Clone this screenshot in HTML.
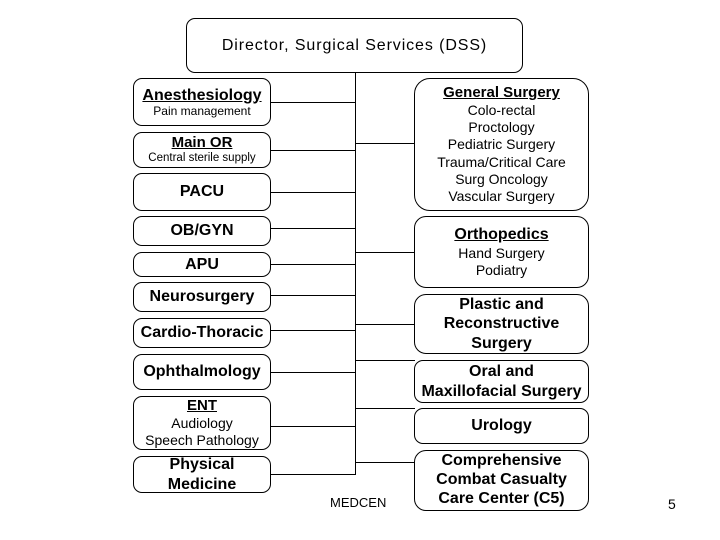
<!DOCTYPE html>
<html><head><meta charset="utf-8"><style>
body{margin:0;width:720px;height:540px;background:#fff;position:relative;font-family:"Liberation Sans",sans-serif;overflow:hidden}
.b{position:absolute;border:1px solid #000;border-radius:9px;box-sizing:border-box;display:flex;flex-direction:column;justify-content:center;align-items:center;text-align:center;color:#000;line-height:1.2}
.t{font-weight:bold;font-size:16px}
.u{text-decoration:underline}
.s{font-size:12px;line-height:1.15}
.m{font-size:14px;line-height:1.22}
.h{position:absolute;height:1px;background:#000}
.v{position:absolute;width:1px;background:#000}
</style></head><body>
<div class="b" style="left:186px;top:18px;width:337px;height:55px;font-size:16px;letter-spacing:0.9px">Director, Surgical Services (DSS)</div>
<div class="v" style="left:355px;top:72px;height:403px"></div>

<div class="b" style="left:133px;top:78px;width:138px;height:48px"><span class="t u">Anesthesiology</span><span class="s">Pain management</span></div>
<div class="b" style="left:133px;top:132px;width:138px;height:36px"><span class="t u" style="font-size:15px">Main OR</span><span class="s" style="font-size:11.5px">Central sterile supply</span></div>
<div class="b" style="left:133px;top:173px;width:138px;height:38px"><span class="t">PACU</span></div>
<div class="b" style="left:133px;top:216px;width:138px;height:30px"><span class="t">OB/GYN</span></div>
<div class="b" style="left:133px;top:252px;width:138px;height:25px"><span class="t">APU</span></div>
<div class="b" style="left:133px;top:282px;width:138px;height:30px"><span class="t">Neurosurgery</span></div>
<div class="b" style="left:133px;top:318px;width:138px;height:30px"><span class="t">Cardio-Thoracic</span></div>
<div class="b" style="left:133px;top:354px;width:138px;height:36px"><span class="t">Ophthalmology</span></div>
<div class="b" style="left:133px;top:396px;width:138px;height:54px"><span class="t u" style="font-size:15px">ENT</span><span class="m" style="line-height:1.2">Audiology<br>Speech Pathology</span></div>
<div class="b" style="left:133px;top:456px;width:138px;height:37px"><span class="t" style="line-height:1.25">Physical<br>Medicine</span></div>

<div class="h" style="left:270px;top:102px;width:85px"></div>
<div class="h" style="left:270px;top:150px;width:85px"></div>
<div class="h" style="left:270px;top:192px;width:85px"></div>
<div class="h" style="left:270px;top:228px;width:85px"></div>
<div class="h" style="left:270px;top:264px;width:85px"></div>
<div class="h" style="left:270px;top:295px;width:85px"></div>
<div class="h" style="left:270px;top:330px;width:85px"></div>
<div class="h" style="left:270px;top:372px;width:85px"></div>
<div class="h" style="left:270px;top:426px;width:85px"></div>
<div class="h" style="left:270px;top:474px;width:86px"></div>

<div class="h" style="left:355px;top:143px;width:60px"></div>
<div class="h" style="left:355px;top:252px;width:60px"></div>
<div class="h" style="left:355px;top:324px;width:60px"></div>
<div class="h" style="left:355px;top:360px;width:60px"></div>
<div class="h" style="left:355px;top:408px;width:60px"></div>
<div class="h" style="left:355px;top:462px;width:60px"></div>

<div class="b" style="left:414px;top:78px;width:175px;height:133px;border-radius:16px"><span class="t u" style="font-size:15px">General Surgery</span><span class="m">Colo-rectal<br>Proctology<br>Pediatric Surgery<br>Trauma/Critical Care<br>Surg Oncology<br>Vascular Surgery</span></div>
<div class="b" style="left:414px;top:216px;width:175px;height:72px;border-radius:12px"><span class="t u">Orthopedics</span><span class="m">Hand Surgery<br>Podiatry</span></div>
<div class="b" style="left:414px;top:294px;width:175px;height:60px;border-radius:12px"><span class="t" style="line-height:1.2">Plastic and<br>Reconstructive<br>Surgery</span></div>
<div class="b" style="left:414px;top:360px;width:175px;height:43px"><span class="t" style="line-height:1.25">Oral and<br>Maxillofacial Surgery</span></div>
<div class="b" style="left:414px;top:408px;width:175px;height:36px"><span class="t">Urology</span></div>
<div class="b" style="left:414px;top:450px;width:175px;height:61px;border-radius:12px"><span class="t" style="line-height:1.18">Comprehensive<br>Combat Casualty<br>Care Center (C5)</span></div>

<div style="position:absolute;left:330px;top:495px;font-size:13px">MEDCEN</div>
<div style="position:absolute;left:668px;top:496px;font-size:14px">5</div>
</body></html>
